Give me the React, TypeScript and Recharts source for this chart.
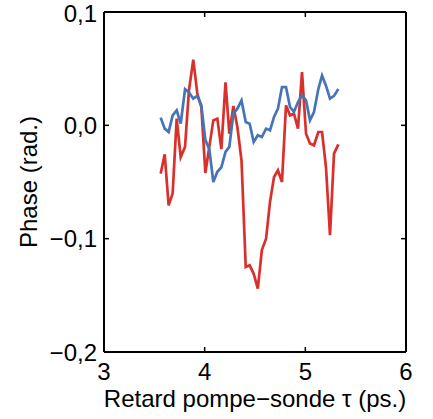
import { LineChart, Line, XAxis, YAxis } from 'recharts'

// retard pompe-sonde (ps.)
const delays = [
  3.563, 3.603, 3.642, 3.682, 3.722, 3.762, 3.805, 3.844, 3.887, 3.927,
  3.967, 4.007, 4.046, 4.086, 4.126, 4.166, 4.207, 4.245, 4.285, 4.325,
  4.366, 4.408, 4.447, 4.487, 4.528, 4.568, 4.61, 4.649, 4.689, 4.728,
  4.768, 4.808, 4.848, 4.887, 4.927, 4.967, 5.007, 5.046, 5.086, 5.129,
  5.166, 5.205, 5.245, 5.285, 5.328,
]

// phase (rad.)
const phaseRed = [
  -0.0426, -0.0256, -0.0706, -0.06, 0.0059, -0.028, -0.019, 0.031, 0.058, 0.028,
  0.016, -0.042, -0.019, 0.0044, 0.0059, -0.021, 0.038, -0.0074, 0.017, -0.0015,
  -0.031, -0.125, -0.1235, -0.131, -0.144, -0.11, -0.1, -0.0676, -0.0456, -0.0397,
  -0.05, 0.0176, 0.0088, 0.0103, -0.0029, 0.047, -0.0074, -0.016, -0.0176, -0.0059,
  -0.0059, -0.0368, -0.097, -0.025, -0.0168,
]

const phaseBlue = [
  0.0068, -0.0029, -0.0059, 0.0088, 0.0132, 0.0015, 0.032, 0.029, 0.0235, 0.026,
  0.0176, -0.013, -0.021, -0.05, -0.041, -0.037, -0.0235, -0.019, 0.0103, 0.0147,
  0.022, 0.0029, 0.0015, -0.0147, -0.0088, -0.0103, -0.0029, -0.0044, 0.0074, 0.0147,
  0.0338, 0.0338, 0.0162, 0.0118, 0.0206, 0.0265, 0.022, 0.0044, 0.0118, 0.032,
  0.044, 0.035, 0.0235, 0.026, 0.032,
]

const xTicks = [3, 4, 5, 6]
const yTicks = [-0.2, -0.1, 0, 0.1]

const data = delays.map((t, i) => ({ t, red: phaseRed[i], blue: phaseBlue[i] }))

const font = '"Liberation Sans", Arial, Helvetica, sans-serif'
const tickStyle = { fontSize: 24, fill: '#000', fontFamily: font }
const axisLine = { stroke: '#000', strokeWidth: 2 }
const tickLine = { stroke: '#000', strokeWidth: 1.5 }
const blank = () => ''

const fmtY = (v: number) => v.toFixed(1).replace('.', ',').replace('-', '\u2212')

export default function App() {
  return (
    <div style={{ position: 'absolute', left: 0, top: 0, background: '#fff' }}>
      <LineChart
        width={433}
        height={419}
        data={data}
        margin={{ top: 12, right: 27, bottom: 0, left: 0 }}
      >
        {/* labelled axes */}
        <XAxis
          xAxisId="b"
          dataKey="t"
          type="number"
          domain={[3, 6]}
          allowDataOverflow
          ticks={xTicks}
          height={67}
          tickSize={-4}
          tickMargin={15}
          axisLine={axisLine}
          tickLine={false}
          tick={tickStyle}
          label={{
            content: (p: any) => {
              const vb = p.viewBox
              return (
                <text
                  x={vb.x + vb.width / 2}
                  y={398}
                  textAnchor="middle"
                  dominantBaseline="central"
                  fontSize={24}
                  fontFamily={font}
                  fill="#000"
                >
                  Retard pompe{'\u2212'}sonde τ (ps.)
                </text>
              )
            },
          }}
        />
        <YAxis
          yAxisId="l"
          type="number"
          domain={[-0.2, 0.1]}
          allowDataOverflow
          ticks={yTicks}
          width={104}
          tickSize={-4}
          tickMargin={11}
          axisLine={axisLine}
          tickLine={false}
          tick={tickStyle}
          tickFormatter={fmtY}
          label={{
            content: (p: any) => {
              const vb = p.viewBox
              const cy = vb.y + vb.height / 2
              return (
                <text
                  x={28}
                  y={cy}
                  transform={`rotate(-90, 28, ${cy})`}
                  textAnchor="middle"
                  dominantBaseline="central"
                  fontSize={24}
                  fontFamily={font}
                  fill="#000"
                >
                  Phase (rad.)
                </text>
              )
            },
          }}
        />

        {/* box with inward ticks */}
        <XAxis
          xAxisId="bm"
          dataKey="t"
          orientation="bottom"
          mirror
          type="number"
          domain={[3, 6]}
          allowDataOverflow
          ticks={xTicks}
          height={20}
          tickSize={5}
          axisLine={axisLine}
          tickLine={tickLine}
          tickFormatter={blank}
        />
        <XAxis
          xAxisId="tm"
          dataKey="t"
          orientation="top"
          mirror
          type="number"
          domain={[3, 6]}
          allowDataOverflow
          ticks={xTicks}
          height={20}
          tickSize={5}
          axisLine={axisLine}
          tickLine={tickLine}
          tickFormatter={blank}
        />
        <YAxis
          yAxisId="lm"
          dataKey="red"
          orientation="left"
          mirror
          type="number"
          domain={[-0.2, 0.1]}
          allowDataOverflow
          ticks={yTicks}
          width={20}
          tickSize={5}
          axisLine={axisLine}
          tickLine={tickLine}
          tickFormatter={blank}
        />
        <YAxis
          yAxisId="rm"
          dataKey="red"
          orientation="right"
          mirror
          type="number"
          domain={[-0.2, 0.1]}
          allowDataOverflow
          ticks={yTicks}
          width={20}
          tickSize={5}
          axisLine={axisLine}
          tickLine={tickLine}
          tickFormatter={blank}
        />

        <Line
          xAxisId="b"
          yAxisId="l"
          dataKey="red"
          stroke="#d9302b"
          strokeWidth={2.7}
          dot={false}
          isAnimationActive={false}
        />
        <Line
          xAxisId="b"
          yAxisId="l"
          dataKey="blue"
          stroke="#4574b8"
          strokeWidth={2.7}
          dot={false}
          isAnimationActive={false}
        />
      </LineChart>
    </div>
  )
}
